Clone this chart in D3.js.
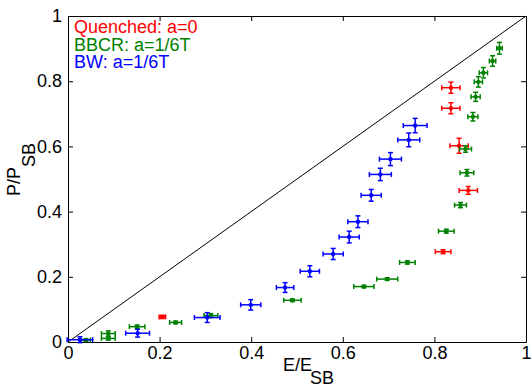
<!DOCTYPE html>
<html>
<head>
<meta charset="utf-8">
<title>P/P_SB vs E/E_SB</title>
<script type="text/javascript" src="https://d3js.org/d3.v7.min.js"></script>
<style>
    body { margin: 0; background: #fff; }
    text { font-family: "Liberation Sans", Arial, Helvetica, sans-serif; }
    .axis path, .axis line { stroke: #000; stroke-width: 1; }
    .axis text { font-size: 18px; fill: #000; }
</style>
</head>
<body>
<script>
    // tick values / labels
    var tickVals = [0, 0.2, 0.4, 0.6, 0.8, 1];
    var tickLabels = ["0", "0.2", "0.4", "0.6", "0.8", "1"];

    // Quenched: a=0
    var qE  = [0.836, 0.836, 0.854, 0.874, 0.819, 0.206];
    var qP  = [0.780, 0.717, 0.602, 0.465, 0.277, 0.077];
    var qEx = [0.020, 0.020, 0.020, 0.020, 0.017, 0.007];
    var qPx = [0.017, 0.017, 0.023, 0.012, 0.006, 0.005];

    // BBCR: a=1/6T
    var gE  = [0.942, 0.927, 0.907, 0.896, 0.890, 0.884, 0.868, 0.871, 0.857, 0.826,
               0.741, 0.697, 0.646, 0.490, 0.312, 0.235, 0.151, 0.088, 0.088, 0.039];
    var gP  = [0.901, 0.862, 0.826, 0.798, 0.752, 0.691, 0.592, 0.519, 0.420, 0.340,
               0.244, 0.193, 0.170, 0.128, 0.081, 0.060, 0.047, 0.026, 0.011, 0.006];
    var gEx = [0.006, 0.007, 0.009, 0.009, 0.010, 0.011, 0.013, 0.015, 0.013, 0.017,
               0.017, 0.023, 0.022, 0.019, 0.015, 0.013, 0.017, 0.015, 0.015, 0.010];
    var gPx = [0.018, 0.016, 0.016, 0.016, 0.014, 0.013, 0.010, 0.010, 0.008, 0.006,
               0.005, 0.004, 0.004, 0.004, 0.006, 0.004, 0.005, 0.008, 0.005, 0.004];

    // BW: a=1/6T
    var bE  = [0.026, 0.152, 0.304, 0.399, 0.474, 0.528, 0.579, 0.614, 0.633, 0.662,
               0.682, 0.704, 0.744, 0.758];
    var bP  = [0.007, 0.027, 0.075, 0.114, 0.167, 0.217, 0.270, 0.322, 0.369, 0.450,
               0.514, 0.561, 0.620, 0.664];
    var bEx = [0.028, 0.026, 0.028, 0.022, 0.019, 0.021, 0.022, 0.022, 0.022, 0.022,
               0.024, 0.024, 0.024, 0.026];
    var bPx = [0.009, 0.012, 0.015, 0.016, 0.015, 0.017, 0.017, 0.018, 0.018, 0.018,
               0.019, 0.020, 0.021, 0.022];

    var seriesNames = ["Quenched: a=0", "BBCR: a=1/6T", "BW: a=1/6T"];
    var seriesColors = ["#ff0000", "#008000", "#0000ff"];

    var margin = {top: 16, right: 5, bottom: 45, left: 68};
    var W = 531, H = 387;
    var width = W - margin.left - margin.right;
    var height = H - margin.top - margin.bottom;

    var xScale = d3.scaleLinear().domain([0, 1]).range([0, width]);
    var yScale = d3.scaleLinear().domain([0, 1]).range([height, 0]);

    var svg = d3.select("body").append("svg")
                .attr("width", W)
                .attr("height", H)
                .append("g")
                .attr("transform", "translate(" + margin.left + "," + margin.top + ")");

    var fmt = function(d, i) { return tickLabels[i]; };

    // axes, ticks pointing inward on all four sides
    svg.append("g").attr("class", "axis")
        .attr("transform", "translate(0," + height + ")")
        .call(d3.axisBottom(xScale).tickValues(tickVals).tickFormat(fmt)
              .tickSizeInner(-5).tickSizeOuter(0).tickPadding(4));
    svg.append("g").attr("class", "axis")
        .call(d3.axisLeft(yScale).tickValues(tickVals).tickFormat(fmt)
              .tickSizeInner(-5).tickSizeOuter(0).tickPadding(6));
    svg.append("g").attr("class", "axis")
        .call(d3.axisTop(xScale).tickValues(tickVals).tickFormat("")
              .tickSizeInner(-5).tickSizeOuter(0));
    svg.append("g").attr("class", "axis")
        .attr("transform", "translate(" + width + ",0)")
        .call(d3.axisRight(yScale).tickValues(tickVals).tickFormat("")
              .tickSizeInner(-5).tickSizeOuter(0));

    // diagonal P = E
    svg.append("line")
        .attr("x1", xScale(0)).attr("y1", yScale(0))
        .attr("x2", xScale(1)).attr("y2", yScale(1))
        .attr("stroke", "#000").attr("stroke-width", 1);

    function makeData(E, P, Ex, Px) {
        return E.map(function(e, i) {
            return {e: e, p: P[i], ex: Ex[i], px: Px[i]};
        });
    }

    var allSeries = [
        makeData(qE, qP, qEx, qPx),
        makeData(gE, gP, gEx, gPx),
        makeData(bE, bP, bEx, bPx)
    ];

    var cap = 2.5;

    allSeries.forEach(function(data, k) {
        var col = seriesColors[k];
        var g = svg.append("g")
                   .attr("stroke", col)
                   .attr("stroke-width", 1.5)
                   .attr("fill", col);
        var pts = g.selectAll(".pt").data(data).enter().append("g").attr("class", "pt");

        // horizontal bar
        pts.append("line")
            .attr("x1", function(d) { return xScale(d.e - d.ex); })
            .attr("x2", function(d) { return xScale(d.e + d.ex); })
            .attr("y1", function(d) { return yScale(d.p); })
            .attr("y2", function(d) { return yScale(d.p); });
        // vertical bar
        pts.append("line")
            .attr("x1", function(d) { return xScale(d.e); })
            .attr("x2", function(d) { return xScale(d.e); })
            .attr("y1", function(d) { return yScale(d.p - d.px); })
            .attr("y2", function(d) { return yScale(d.p + d.px); });
        // caps
        [-1, 1].forEach(function(s) {
            pts.append("line")
                .attr("x1", function(d) { return xScale(d.e + s * d.ex); })
                .attr("x2", function(d) { return xScale(d.e + s * d.ex); })
                .attr("y1", function(d) { return yScale(d.p) - cap; })
                .attr("y2", function(d) { return yScale(d.p) + cap; });
            pts.append("line")
                .attr("x1", function(d) { return xScale(d.e) - cap; })
                .attr("x2", function(d) { return xScale(d.e) + cap; })
                .attr("y1", function(d) { return yScale(d.p + s * d.px); })
                .attr("y2", function(d) { return yScale(d.p + s * d.px); });
        });
        // point marker
        pts.append("circle")
            .attr("cx", function(d) { return xScale(d.e); })
            .attr("cy", function(d) { return yScale(d.p); })
            .attr("r", 2.2)
            .attr("stroke", "none");
    });

    // legend (text only)
    svg.selectAll(".leg")
        .data(seriesNames)
        .enter()
        .append("text")
        .attr("class", "leg")
        .attr("x", 6)
        .attr("y", function(d, i) { return 17 + i * 17.7; })
        .attr("fill", function(d, i) { return seriesColors[i]; })
        .style("font-size", "18px")
        .text(function(d) { return d; });

    // axis labels
    var xl = svg.append("text")
        .attr("x", 215)
        .attr("y", height + 29)
        .style("font-size", "18px");
    xl.append("tspan").text("E/E");
    xl.append("tspan").attr("dy", 13).attr("dx", -2).text("SB");

    var yl = svg.append("text")
        .attr("transform", "translate(" + (-48) + "," + 180 + ") rotate(-90)")
        .style("font-size", "18px");
    yl.append("tspan").text("P/P");
    yl.append("tspan").attr("dy", 15).text("SB");
</script>
</body>
</html>
